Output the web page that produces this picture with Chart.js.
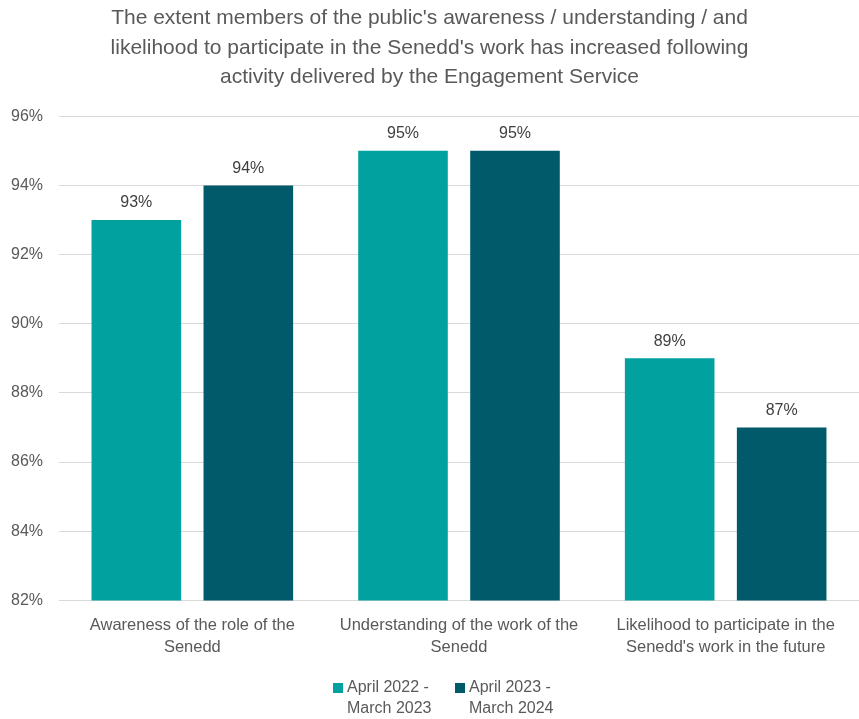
<!DOCTYPE html>
<html>
<head>
<meta charset="utf-8">
<script src="https://cdn.jsdelivr.net/npm/chart.js@4/dist/chart.umd.min.js"></script>
<style>
  html, body { margin: 0; padding: 0; background: #fff; }
  #wrap { width: 859px; height: 719px; }
</style>
</head>
<body>
<div id="wrap"><canvas id="grafico"></canvas></div>
<script>
const categorias = [
    ['Awareness of the role of the', 'Senedd'],
    ['Understanding of the work of the', 'Senedd'],
    ['Likelihood to participate in the', "Senedd's work in the future"]
];
const serie2022 = [93, 95, 89];
const serie2023 = [94, 95, 87];
const nomesSeries = [['April 2022 -', 'March 2023'], ['April 2023 -', 'March 2024']];
const coresSeries = ['#00A19F', '#005A6A'];

const fonte = "'Liberation Sans', Arial, sans-serif";
const cinza = '#595959';

// rótulos em cima das barras
const rotulosPlugin = {
    id: 'rotulos',
    afterDatasetsDraw(chart) {
        const ctx = chart.ctx;
        ctx.save();
        ctx.font = '16px ' + fonte;
        ctx.fillStyle = '#404040';
        ctx.textAlign = 'center';
        ctx.textBaseline = 'bottom';
        chart.data.datasets.forEach((ds, i) => {
            chart.getDatasetMeta(i).data.forEach((bar, j) => {
                ctx.fillText(ds.data[j] + '%', bar.x, bar.y - 9);
            });
        });
        ctx.restore();
    }
};

// legenda em duas linhas, desenhada à mão
const legendaPlugin = {
    id: 'legenda',
    afterDraw(chart) {
        const ctx = chart.ctx;
        const posX = [333, 455];
        const y1 = 688, y2 = 709;
        ctx.save();
        ctx.font = '16px ' + fonte;
        ctx.textBaseline = 'middle';
        ctx.textAlign = 'left';
        chart.data.datasets.forEach((ds, i) => {
            ctx.fillStyle = ds.backgroundColor;
            ctx.fillRect(posX[i], y1 - 5, 10, 10);
            ctx.fillStyle = cinza;
            ctx.fillText(ds.label[0], posX[i] + 14, y1);
            ctx.fillText(ds.label[1], posX[i] + 14, y2);
        });
        ctx.restore();
    }
};

const dataBar = {
    labels: categorias,
    datasets: [{
        label: nomesSeries[0],
        data: serie2022,
        backgroundColor: coresSeries[0],
        categoryPercentage: 0.84,
        barPercentage: 0.8
    }, {
        label: nomesSeries[1],
        data: serie2023,
        backgroundColor: coresSeries[1],
        categoryPercentage: 0.84,
        barPercentage: 0.8
    }]
};

const configBar = {
    type: 'bar',
    data: dataBar,
    options: {
        responsive: true,
        maintainAspectRatio: false,
        animation: false,
        layout: { padding: { left: 0, right: 0, top: 4, bottom: 46 } },
        scales: {
            y: {
                min: 82,
                max: 96,
                ticks: {
                    stepSize: 2,
                    color: cinza,
                    font: { family: fonte, size: 16 },
                    padding: 16,
                    callback: v => v + '%'
                },
                grid: { color: '#D9D9D9', drawTicks: false },
                border: { display: false },
                afterFit: s => { s.width = 59; }
            },
            x: {
                ticks: {
                    color: cinza,
                    font: { family: fonte, size: 16.5, lineHeight: 1.35 },
                    padding: 14,
                    maxRotation: 0
                },
                grid: { display: false, drawTicks: false },
                border: { color: '#D9D9D9' }
            }
        },
        plugins: {
            legend: { display: false },
            title: {
                display: true,
                text: ["The extent members of the public's awareness / understanding / and",
                       "likelihood to participate in the Senedd's work has increased following",
                       'activity delivered by the Engagement Service'],
                color: cinza,
                font: { family: fonte, size: 21, weight: 'normal', lineHeight: 1.4 },
                padding: { top: 0, bottom: 24 }
            },
            tooltip: { enabled: false }
        }
    },
    plugins: [rotulosPlugin, legendaPlugin]
};

var ctxBar = document.getElementById('grafico').getContext('2d');
var meuGrafico = new Chart(ctxBar, configBar);
</script>
</body>
</html>
